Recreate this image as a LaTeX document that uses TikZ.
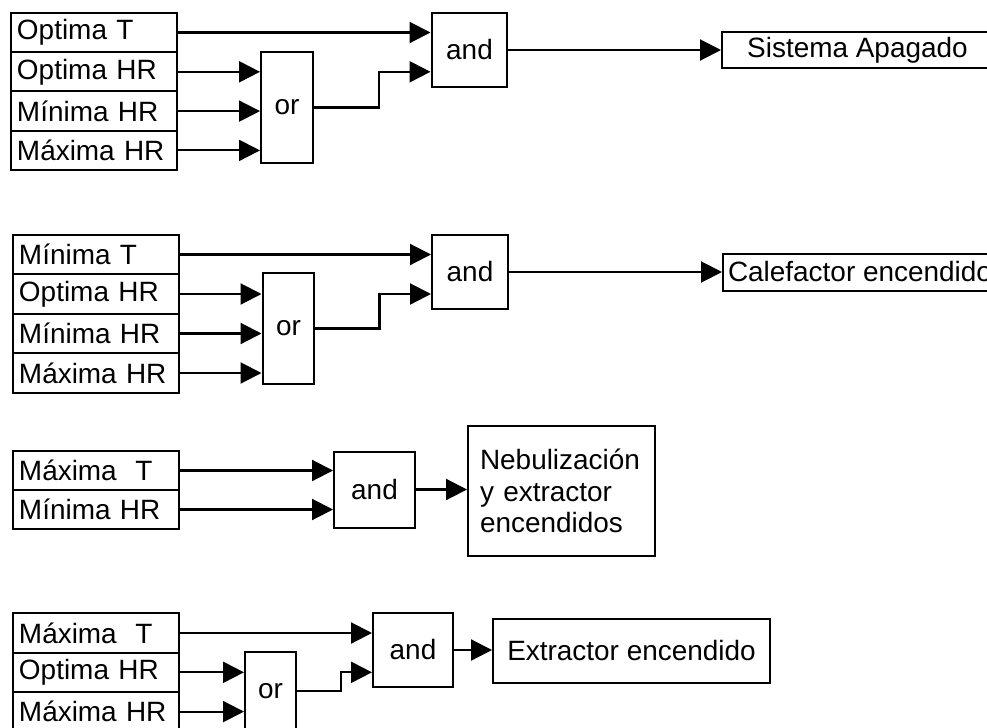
\documentclass[tikz,border=0pt]{standalone}
\usepackage{fontspec}
\setmainfont{Liberation Sans}
\usetikzlibrary{arrows.meta}

\begin{document}
\begin{tikzpicture}[
        x=0.02cm, y=-0.02cm,
        every node/.style={font=\fontsize{15.9}{17.9}\selectfont},
        row/.style={draw, line width=0.04cm, anchor=west, text width=3.08cm, align=left, inner xsep=0.12cm, inner ysep=0.02cm, minimum height=0.786cm},
        gate/.style={draw, line width=0.04cm, inner sep=0.02cm, minimum width=1.52cm, minimum height=1.48cm},
        orgate/.style={gate, minimum width=1.04cm, minimum height=2.22cm},
        result/.style={draw, line width=0.04cm, inner ysep=0.02cm},
        wire/.style={-{Triangle[length=0.42cm, width=0.42cm]}, line width=0.042cm}
    ]
    \useasboundingbox (0,0) rectangle (987,727);

    % Sistema apagado
    \node[row] (optT1) at (10, 32.5) {Optima T};
    \node[row] (optHR1) at (10, 71.8) {Optima HR};
    \node[row] (minHR1) at (10, 111.1) {Mínima HR};
    \node[row] (maxHR1) at (10, 150.4) {Máxima HR};
    \node[orgate] (or1) at (287, 107.5) {or};
    \node[gate] (and1) at (469.5, 50) {and};
    \node[result, anchor=west, minimum width=5.42cm, minimum height=0.72cm] (out1) at (721, 50) {Sistema Apagado};
    \draw[wire] (optT1.east) -- (optT1.east -| and1.west);
    \draw[wire] (optHR1.east) -- (optHR1.east -| or1.west);
    \draw[wire] (minHR1.east) -- (minHR1.east -| or1.west);
    \draw[wire] (maxHR1.east) -- (maxHR1.east -| or1.west);
    \draw[wire] (or1.east) -- ++(65,0) |- (optHR1.east -| and1.west);
    \draw[wire] (and1.east) -- (and1.east -| out1.west);

    % Calefactor encendido
    \node[row] (minT2) at (12, 254.5) {Mínima T};
    \node[row] (optHR2) at (12, 294) {Optima HR};
    \node[row] (minHR2) at (12, 333.5) {Mínima HR};
    \node[row] (maxHR2) at (12, 373) {Máxima HR};
    \node[orgate] (or2) at (288.5, 328.5) {or};
    \node[gate] (and2) at (470, 272) {and};
    \node[result, anchor=west, inner xsep=0.1cm, minimum height=0.74cm] (out2) at (722, 272) {Calefactor encendido};
    \draw[wire] (minT2.east) -- (minT2.east -| and2.west);
    \draw[wire] (optHR2.east) -- (optHR2.east -| or2.west);
    \draw[wire] (minHR2.east) -- (minHR2.east -| or2.west);
    \draw[wire] (maxHR2.east) -- (maxHR2.east -| or2.west);
    \draw[wire] (or2.east) -- ++(64,0) |- (optHR2.east -| and2.west);
    \draw[wire] (and2.east) -- (and2.east -| out2.west);

    % Nebulizacion y extractor
    \node[row, minimum height=0.78cm] (maxT3) at (12, 470.5) {Máxima\ \ T};
    \node[row, minimum height=0.78cm] (minHR3) at (12, 509.5) {Mínima HR};
    \node[gate, minimum width=1.62cm, minimum height=1.52cm] (and3) at (374.5, 489.5) {and};
    \node[result, text width=3.26cm, align=left, inner xsep=0.24cm, minimum height=2.6cm] (out3) at (561.5, 491) {Nebulización\\y extractor\\encendidos};
    \draw[wire] (maxT3.east) -- (maxT3.east -| and3.west);
    \draw[wire] (minHR3.east) -- (minHR3.east -| and3.west);
    \draw[wire] (and3.east) -- (and3.east -| out3.west);

    % Extractor encendido
    \node[row] (maxT4) at (12, 633) {Máxima\ \ T};
    \node[row] (optHR4) at (12, 672.3) {Optima HR};
    \node[row] (maxHR4) at (12, 711.6) {Máxima HR};
    \node[orgate, minimum width=1.02cm, minimum height=1.56cm] (or4) at (270.5, 691) {or};
    \node[gate, minimum width=1.6cm] (and4) at (413, 650) {and};
    \node[result, minimum width=5.54cm, minimum height=1.28cm] (out4) at (631.5, 651) {Extractor encendido};
    \draw[wire] (maxT4.east) -- (maxT4.east -| and4.west);
    \draw[wire] (optHR4.east) -- (optHR4.east -| or4.west);
    \draw[wire] (maxHR4.east) -- (maxHR4.east -| or4.west);
    \draw[wire] (or4.east) -- ++(44,0) |- (optHR4.east -| and4.west);
    \draw[wire] (and4.east) -- (and4.east -| out4.west);

\end{tikzpicture}
\end{document}
